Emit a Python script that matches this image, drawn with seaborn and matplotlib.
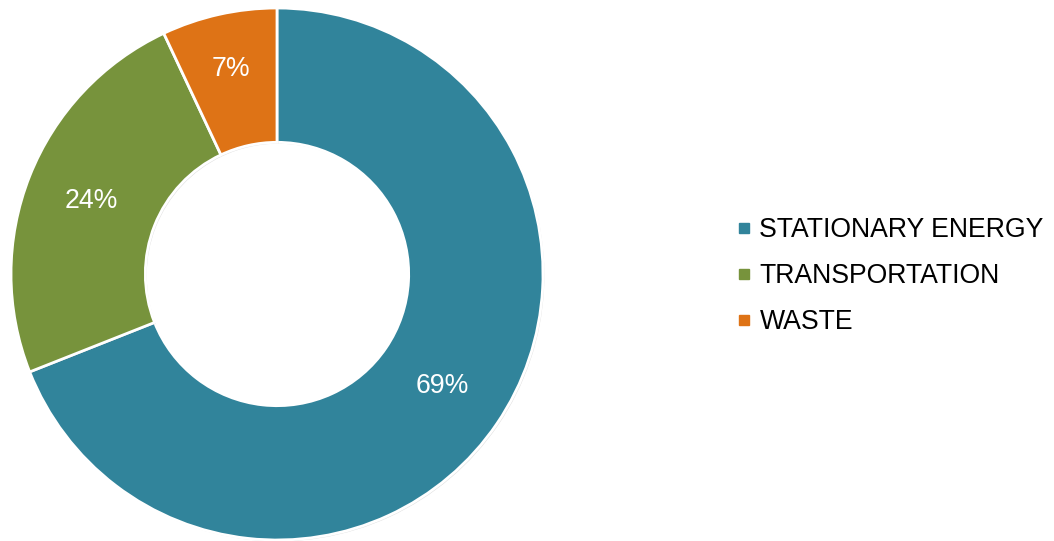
import matplotlib
matplotlib.use("Agg")
import matplotlib.pyplot as plt
import matplotlib.patheffects as pe
from matplotlib.lines import Line2D
import seaborn as sns

# Emissions share by sector
sectors = ["STATIONARY ENERGY", "TRANSPORTATION", "WASTE"]
shares = [69, 24, 7]
colors = ["#31849B", "#77933C", "#DE7316"]

sns.set_theme(style="white")
plt.rcParams["font.family"] = ["Liberation Sans", "DejaVu Sans"]

fig = plt.figure(figsize=(10.54, 5.41), dpi=100)
cx, cy, r = 277, 541 - 274, 266
ax = fig.add_axes([(cx - r) / 1054, (cy - r) / 541, 2 * r / 1054, 2 * r / 541])

palette = sns.color_palette(colors)
wedges, texts, autotexts = ax.pie(
    shares,
    colors=palette,
    startangle=90,
    counterclock=False,
    radius=1.0,
    autopct=lambda p: f"{p:.0f}%",
    pctdistance=0.75,
    wedgeprops=dict(width=0.505, edgecolor="white", linewidth=2),
    textprops=dict(color="white", fontsize=19.2),
)
for w in wedges:
    w.set_path_effects([
        pe.SimplePatchShadow(offset=(1, -1), shadow_rgbFace="#000000", alpha=0.12),
        pe.Normal(),
    ])

# the small slice's label sits a little further out
x, y = autotexts[2].get_position()
autotexts[2].set_position((x * 0.79 / 0.75, y * 0.79 / 0.75))

ax.set_xlim(-1.0, 1.0)
ax.set_ylim(-1.0, 1.0)
ax.set_aspect("equal")
ax.axis("off")

handles = [Line2D([0], [0], marker="s", linestyle="none", markersize=7.5,
                  markerfacecolor=c, markeredgecolor=c) for c in palette]
fig.legend(handles, sectors, loc="center left",
           bbox_to_anchor=(736 / 1054, 1 - 276 / 541),
           frameon=False, fontsize=19.2, handlelength=0.6,
           handletextpad=0.28, labelspacing=0.75, borderpad=0,
           borderaxespad=0, labelcolor="black")

fig.savefig("out.png", dpi=100, facecolor="white")
